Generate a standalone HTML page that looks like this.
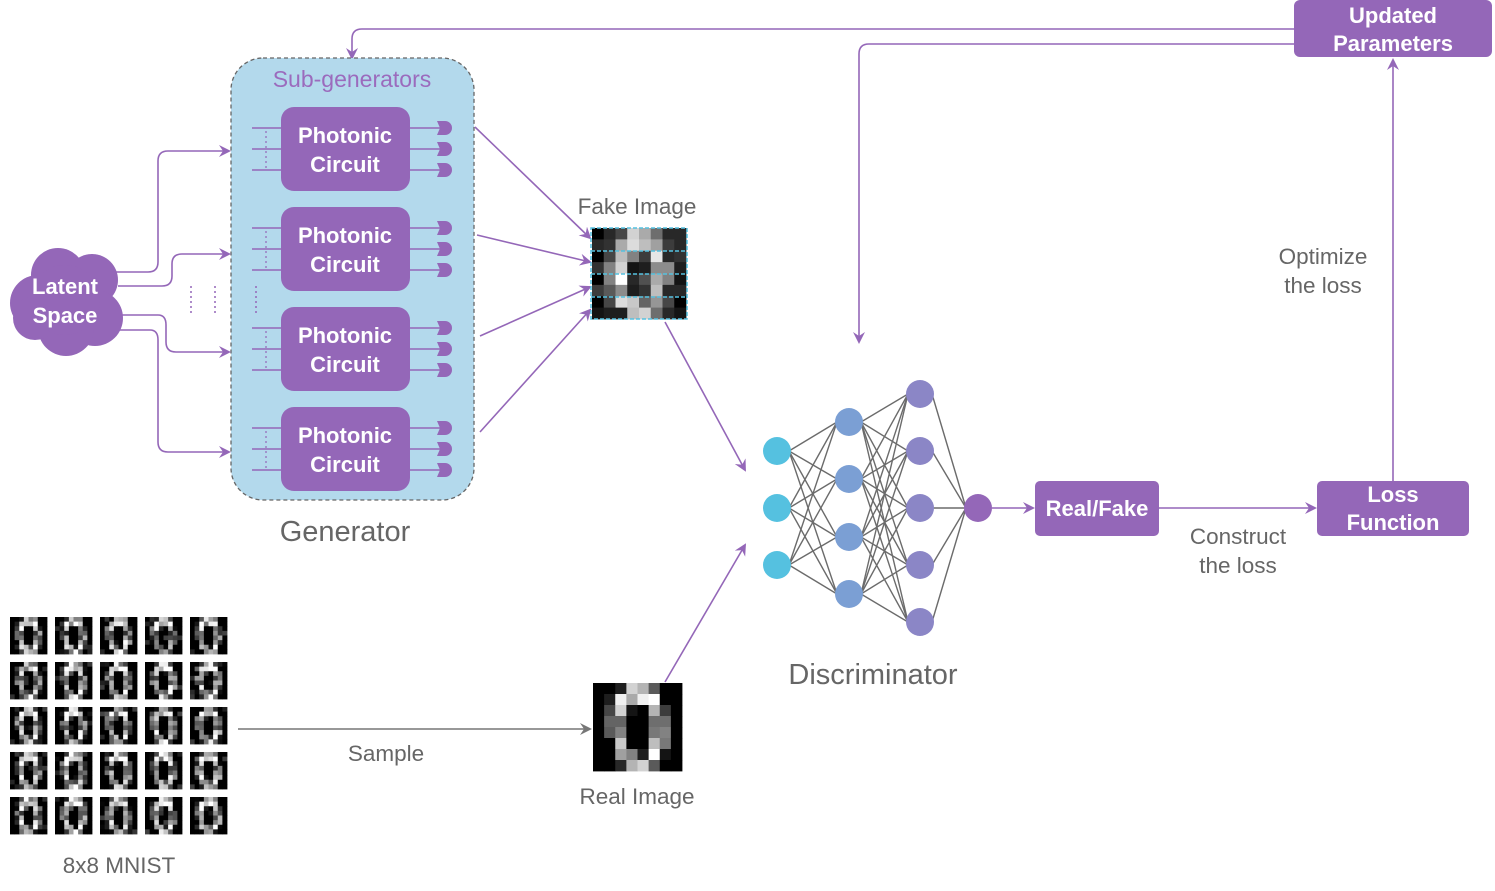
<!DOCTYPE html>
<html><head><meta charset="utf-8"><style>
html,body{margin:0;padding:0;background:#fff}
svg{display:block;font-family:"Liberation Sans",sans-serif}
.pc{fill:#9467b8}
.wt{fill:#fff;font-weight:bold;font-size:22px;text-anchor:middle}
.gt{fill:#666;font-size:22.5px;text-anchor:middle}
.ln{stroke:#9467b8;stroke-width:1.6;fill:none}
</style></head><body>
<svg id="s" width="1495" height="891" viewBox="0 0 1495 891" xmlns="http://www.w3.org/2000/svg">
<defs>
<marker id="a" markerWidth="12" markerHeight="12" refX="10" refY="6" orient="auto" markerUnits="userSpaceOnUse">
<path d="M0,0 L12,6 L0,12 L4,6 Z" fill="#9467b8"/></marker>
<marker id="ag" markerWidth="12" markerHeight="12" refX="10" refY="6" orient="auto" markerUnits="userSpaceOnUse">
<path d="M0,0 L12,6 L0,12 L4,6 Z" fill="#777"/></marker>
</defs>
<path class="ln" d="M1294,29 L362,29 Q352,29 352,39 L352,58" marker-end="url(#a)"/>
<path class="ln" d="M1294,44 L869,44 Q859,44 859,54 L859,342" marker-end="url(#a)"/>
<path class="ln" d="M1393,481 L1393,60" marker-end="url(#a)"/>
<rect x="1294" y="0" width="198" height="57" rx="6" class="pc"/>
<text x="1393" y="23" class="wt">Updated</text>
<text x="1393" y="51" class="wt">Parameters</text>
<rect x="231" y="58" width="243" height="442" rx="32" fill="#b3d9ec" stroke="#666" stroke-width="1.3" stroke-dasharray="4,3"/>
<text x="352" y="87" text-anchor="middle" font-size="23" fill="#9b6bbd">Sub-generators</text>
<g id="pcs"></g>
<path class="ln" d="M115,272 L148,272 Q158,272 158,262 L158,161 Q158,151 168,151 L229,151" marker-end="url(#a)"/>
<path class="ln" d="M118,286 L162,286 Q172,286 172,276 L172,264 Q172,254 182,254 L229,254" marker-end="url(#a)"/>
<path class="ln" d="M120,315 L158,315 Q166,315 166,325 L166,342 Q166,352 176,352 L229,352" marker-end="url(#a)"/>
<path class="ln" d="M118,330 L150,330 Q158,330 158,340 L158,442 Q158,452 168,452 L229,452" marker-end="url(#a)"/>
<g fill="#9467b8">
<circle cx="58" cy="275" r="27"/><circle cx="92" cy="280" r="26"/><circle cx="38" cy="303" r="28"/>
<circle cx="95" cy="318" r="28"/><circle cx="66" cy="328" r="28"/><circle cx="35" cy="318" r="22"/>
<circle cx="65" cy="300" r="35"/>
</g>
<text x="65" y="294" class="wt">Latent</text>
<text x="65" y="323" class="wt">Space</text>
<g stroke="#9467b8" stroke-width="1.5" stroke-dasharray="2,3">
<line x1="191" y1="286" x2="191" y2="316"/><line x1="215" y1="286" x2="215" y2="316"/><line x1="256" y1="286" x2="256" y2="316"/>
</g>
<text x="345" y="541" class="gt" style="font-size:29px">Generator</text>
<path class="ln" d="M475,127 L590,238" marker-end="url(#a)"/>
<path class="ln" d="M477,235 L590,262" marker-end="url(#a)"/>
<path class="ln" d="M480,336 L590,287" marker-end="url(#a)"/>
<path class="ln" d="M480,432 L590,310" marker-end="url(#a)"/>
<text x="637" y="214" class="gt">Fake Image</text>
<g id="fake"></g>
<path class="ln" d="M665,322 L745,470" marker-end="url(#a)"/>
<path class="ln" d="M665,682 L745,545" marker-end="url(#a)"/>
<g id="real"></g>
<text x="637" y="804" class="gt">Real Image</text>
<line x1="238" y1="729" x2="590" y2="729" stroke="#777" stroke-width="1.5" marker-end="url(#ag)"/>
<text x="386" y="761" class="gt">Sample</text>
<g id="mnist"></g>
<text x="119" y="873" class="gt">8x8 MNIST</text>
<g id="nn"></g>
<text x="873" y="684" class="gt" style="font-size:29px">Discriminator</text>
<path class="ln" d="M992,508 L1033,508" marker-end="url(#a)"/>
<rect x="1035" y="481" width="124" height="55" rx="5" class="pc"/>
<text x="1097" y="516" class="wt">Real/Fake</text>
<path class="ln" d="M1159,508 L1315,508" marker-end="url(#a)"/>
<rect x="1317" y="481" width="152" height="55" rx="5" class="pc"/>
<text x="1393" y="502" class="wt">Loss</text>
<text x="1393" y="530" class="wt">Function</text>
<text x="1238" y="544" class="gt">Construct</text>
<text x="1238" y="573" class="gt">the loss</text>
<text x="1323" y="264" class="gt">Optimize</text>
<text x="1323" y="293" class="gt">the loss</text>
</svg>
<script>
var NS="http://www.w3.org/2000/svg";
function el(p,t,a,txt){var e=document.createElementNS(NS,t);for(var k in a)e.setAttribute(k,a[k]);if(txt)e.textContent=txt;p.appendChild(e);return e;}
var pcs=document.getElementById("pcs");
[107,207,307,407].forEach(function(y){
  [21,42,63].forEach(function(d){
    el(pcs,"line",{x1:252,y1:y+d,x2:282,y2:y+d,stroke:"#9467b8","stroke-width":1.5});
    el(pcs,"line",{x1:409,y1:y+d,x2:440,y2:y+d,stroke:"#9467b8","stroke-width":1.5});
    el(pcs,"path",{d:"M437,"+(y+d-7)+" h8 a7,7 0 0 1 0,14 h-8 l3,-7 z",fill:"#9467b8"});
  });
  el(pcs,"line",{x1:266,y1:y+24,x2:266,y2:y+62,stroke:"#9467b8","stroke-width":1.2,"stroke-dasharray":"2,3"});
  el(pcs,"rect",{x:281,y:y,width:129,height:84,rx:13,fill:"#9467b8"});
  el(pcs,"text",{x:345,y:y+36,"class":"wt"},"Photonic");
  el(pcs,"text",{x:345,y:y+65,"class":"wt"},"Circuit");
});
function img(g,x,y,w,h,data){
  var cw=w/8,ch=h/8;
  for(var r=0;r<8;r++)for(var c=0;c<8;c++){var v=Math.max(0,Math.min(255,Math.round(data[r][c])));
    el(g,"rect",{x:x+c*cw,y:y+r*ch,width:cw+0.4,height:ch+0.4,fill:"rgb("+v+","+v+","+v+")"});}
}
var fake=[[0,40,70,210,170,110,40,40],[40,50,170,220,190,160,60,40],[0,70,190,130,60,230,40,50],[50,130,210,20,30,140,140,30],[0,130,255,40,80,170,130,20],[60,90,140,30,50,190,40,40],[0,70,220,200,100,150,70,0],[20,30,30,190,210,110,40,20]];
var real=[[0,0,30,210,180,90,0,0],[0,30,240,170,240,255,0,0],[0,70,210,20,0,180,60,0],[0,100,100,0,0,110,110,0],[0,90,130,0,0,120,130,0],[0,0,200,0,0,190,120,0],[0,0,160,130,30,255,20,0],[0,0,40,180,210,90,0,0]];
var fg=document.getElementById("fake");
img(fg,592,228,94,91,fake);
el(fg,"rect",{x:591,y:228,width:96,height:91,fill:"none",stroke:"#55c1e0","stroke-width":1.5,"stroke-dasharray":"4,2"});
[251,274,297].forEach(function(yy){el(fg,"line",{x1:591,y1:yy,x2:687,y2:yy,stroke:"#55c1e0","stroke-width":1.5,"stroke-dasharray":"4,2"});});
img(document.getElementById("real"),593,683,89,88,real);
var mg=document.getElementById("mnist");var seed=7;function rnd(){seed=(seed*9301+49297)%233280;return seed/233280;}
for(var i=0;i<5;i++)for(var j=0;j<5;j++){
  var d=real.map(function(row){return row.map(function(v){var n=v+(rnd()-0.5)*140;return (v<20&&rnd()<0.7)?0:n;});});
  img(mg,10+j*45,617+i*45,37,37,d);
}
var nn=document.getElementById("nn");
var L=[[777,[451,508,565],"#55c1e0"],[849,[422,479,537,594],"#7b9fd4"],[920,[394,451,508,565,622],"#8b86c6"],[978,[508],"#9467b8"]];
for(var l=0;l<3;l++)L[l][1].forEach(function(a){L[l+1][1].forEach(function(b){
  el(nn,"line",{x1:L[l][0]+12,y1:a,x2:L[l+1][0]-12,y2:b,stroke:"#6b6b6b","stroke-width":1.4});});});
L.forEach(function(ly){ly[1].forEach(function(y){el(nn,"circle",{cx:ly[0],cy:y,r:14,fill:ly[2]});});});
</script>
</body></html>
